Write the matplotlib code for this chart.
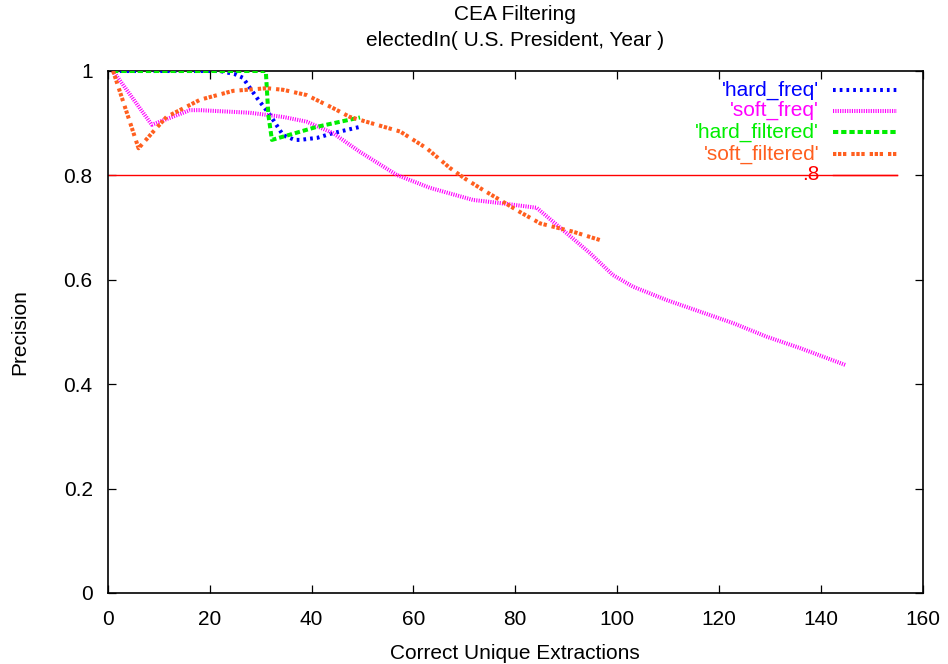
from __future__ import annotations

import matplotlib

matplotlib.use("Agg")
import matplotlib.pyplot as plt
from matplotlib.lines import Line2D


# precision vs. number of correct unique extractions, one series per filter
HARD_FREQ_X = [1, 22.0, 24.9, 26.5, 29.3, 31.8, 34.4, 36.7, 37.7, 41.1, 44.2, 49.5]
HARD_FREQ_Y = [1.0, 1.0, 0.994, 0.987, 0.948, 0.916, 0.877, 0.868, 0.868, 0.872, 0.881, 0.893]

SOFT_FREQ_X = [1, 8.6, 16.1, 18.1, 27.9, 34.4, 39.0, 44.2, 49.5, 56.7, 63.3, 71.7, 77.0,
               84.2, 89.4, 94.7, 99.2, 103.1, 109.8, 116.3, 122.8, 129.4, 136.0, 144.8]
SOFT_FREQ_Y = [1.0, 0.897, 0.925, 0.925, 0.920, 0.912, 0.903, 0.881, 0.845, 0.801, 0.776, 0.753, 0.747,
               0.738, 0.695, 0.651, 0.609, 0.587, 0.561, 0.539, 0.517, 0.491, 0.469, 0.437]

HARD_FILTERED_X = [1, 31.0, 31.5, 32.2, 41.0, 49.5]
HARD_FILTERED_Y = [1.0, 1.0, 0.916, 0.868, 0.893, 0.911]

SOFT_FILTERED_X = [1, 6.0, 8.9, 11.5, 18.1, 24.6, 31.2, 34.4, 39.0, 44.2, 47.5, 52.8, 57.4,
                   62.6, 67.2, 70.1, 73.7, 77.0, 80.9, 84.9, 91.4, 96.7]
SOFT_FILTERED_Y = [1.0, 0.852, 0.884, 0.912, 0.945, 0.962, 0.967, 0.964, 0.954, 0.929, 0.912, 0.897, 0.884,
                   0.852, 0.814, 0.794, 0.772, 0.753, 0.730, 0.708, 0.692, 0.676]

THRESHOLD = 0.8
THRESHOLD_X = [0, 155]

SERIES_LABELS = ["'hard_freq'", "'soft_freq'", "'hard_filtered'", "'soft_filtered'", ".8"]
X_TICKS = [0, 20, 40, 60, 80, 100, 120, 140, 160]
Y_TICKS = [0, 0.2, 0.4, 0.6, 0.8, 1]
Y_TICK_LABELS = ["0", "0.2", "0.4", "0.6", "0.8", "1"]

FONT = "Liberation Sans"
FS = 15

STYLES = [
    dict(color="#0000ff", dashes=(1.95, 2.9)),
    dict(color="#ff00ff", dashes=(0.8, 0.9)),
    dict(color="#00ee00", dashes=(3.8, 2.1)),
    dict(color="#ff5f1f", dashes=(2.4, 1.2, 2.4, 1.2, 2.4, 3.6)),
    dict(color="#ff0000", dashes=None),
]


def main() -> None:
    plt.rcParams.update(
        {
            "font.family": FONT,
            "font.size": FS,
            "lines.scale_dashes": False,
        }
    )
    fig = plt.figure(figsize=(9.48, 6.64), dpi=100)
    ax = fig.add_axes([108 / 948, 71 / 664, 814.5 / 948, 522 / 664])

    series = [
        (HARD_FREQ_X, HARD_FREQ_Y),
        (SOFT_FREQ_X, SOFT_FREQ_Y),
        (HARD_FILTERED_X, HARD_FILTERED_Y),
        (SOFT_FILTERED_X, SOFT_FILTERED_Y),
    ]

    # threshold line first so the curves sit on top of it
    ax.plot(THRESHOLD_X, [THRESHOLD, THRESHOLD], color=STYLES[4]["color"], lw=1.0, zorder=2)
    for (xs, ys), st in zip(series, STYLES):
        ax.plot(xs, ys, color=st["color"], lw=2.9, dashes=st["dashes"],
                dash_capstyle="butt", solid_joinstyle="miter", zorder=3)

    # gnuplot-style key: label on the left, line sample on the right
    key_y = [0.9636, 0.924, 0.883, 0.841, 0.801]
    for label, st, yk in zip(SERIES_LABELS, STYLES, key_y):
        ax.text(0.873, yk, label, transform=ax.transAxes, ha="right", va="center",
                color=st["color"], fontsize=FS, zorder=4)
        if st["dashes"] is None:
            sample = Line2D([0.890, 0.9687], [yk, yk], transform=ax.transAxes,
                            color=st["color"], lw=1.0, zorder=4)
        else:
            sample = Line2D([0.890, 0.9687], [yk, yk], transform=ax.transAxes,
                            color=st["color"], lw=2.9, dashes=st["dashes"],
                            dash_capstyle="butt", zorder=4)
        ax.add_line(sample)

    ax.set_xlim(0, 160)
    ax.set_ylim(0, 1)
    ax.set_xticks(X_TICKS)
    ax.set_xticklabels([str(t) for t in X_TICKS])
    ax.set_yticks(Y_TICKS)
    ax.set_yticklabels(Y_TICK_LABELS)
    ax.tick_params(direction="in", length=5.8, width=0.9, top=True, right=True,
                   labelsize=FS)
    ax.tick_params(axis="x", pad=12)
    ax.tick_params(axis="y", pad=11)
    for sp in ax.spines.values():
        sp.set_linewidth(1.2)

    ax.set_xlabel("Correct Unique Extractions", fontsize=FS, labelpad=11)
    ax.set_ylabel("Precision", fontsize=FS, labelpad=25)
    ax.set_title("CEA Filtering\nelectedIn( U.S. President, Year )", fontsize=FS,
                 linespacing=1.5, pad=18)

    fig.savefig("out.png", dpi=100)
    plt.close(fig)


if __name__ == "__main__":
    main()
